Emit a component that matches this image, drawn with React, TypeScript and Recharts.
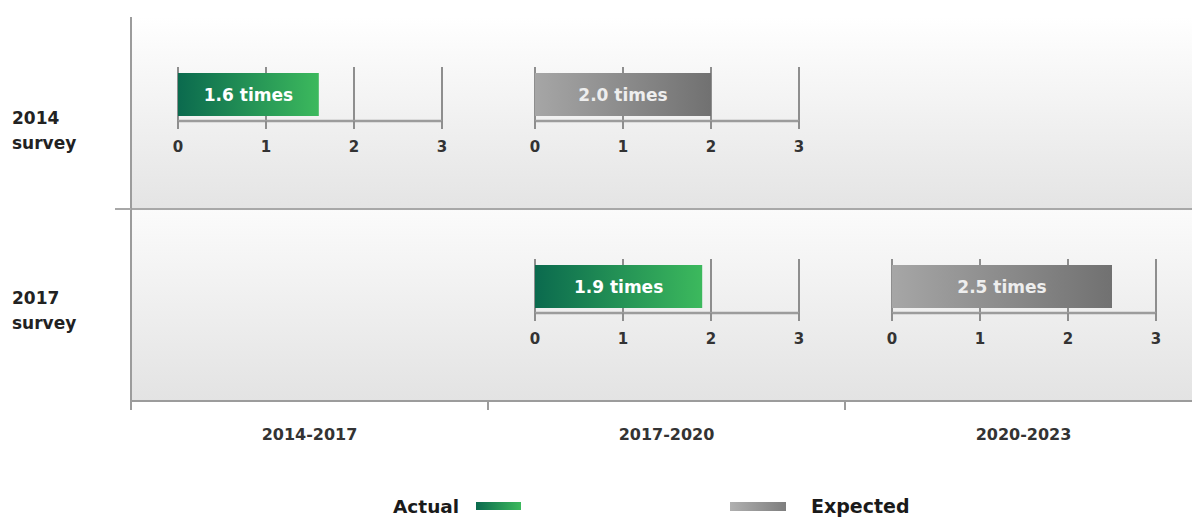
import React from 'react';
import {
  ComposedChart,
  BarChart,
  Bar,
  XAxis,
  YAxis,
  CartesianGrid,
  ReferenceArea,
  ReferenceLine,
  LabelList,
} from 'recharts';

// Survey periods (columns) and survey editions (rows)
const periods = ['2014-2017', '2017-2020', '2020-2023'];
const surveys = ['2014 survey', '2017 survey'];

// Growth multipliers reported by each survey
const actualPeriods = ['2014-2017', '2017-2020'];
const actualValues = [1.6, 1.9];
const expectedPeriods = ['2017-2020', '2020-2023'];
const expectedValues = [2.0, 2.5];

// Scale of the small multiplier charts
const multiplierTicks = [0, 1, 2, 3];
const legendLabels = ['Actual', 'Expected'];

const FONT = '"DejaVu Sans", Verdana, sans-serif';
const PAGE_W = 1192;
const PAGE_H = 517;
const CHART_W = 1210;
const PLOT_LEFT = 131;
const PLOT_TOP = 17;
const PLOT_BOTTOM = 401;
const PLOT_RIGHT_PAD = 8;
const X_AXIS_H = 60;
const COL_W = (CHART_W - PLOT_RIGHT_PAD - PLOT_LEFT) / periods.length;
const ROW_H = (PLOT_BOTTOM - PLOT_TOP) / surveys.length;
const ROW_LABEL_DY = [11, -1];

const MINI_W = 264;
const MINI_PAD = 12;
const MINI_OFFSET_X = 47;
const MINI_OFFSET_Y = 45;
const MINI_TOP_MARGIN = 5;
const MINI_PLOT_H = 54;
const MINI_AXIS_H = 45;

const AXIS_GREY = '#9c9c9c';

const PeriodTick = (props: any) => {
  const { x, y, payload } = props;
  const v = payload.value as number;
  if (Number.isInteger(v)) {
    return <line x1={x} x2={x} y1={y} y2={y + 9} stroke={AXIS_GREY} strokeWidth={2} />;
  }
  return (
    <text
      x={x}
      y={y + 33}
      textAnchor="middle"
      dominantBaseline="central"
      fill="#333"
      fontFamily={FONT}
      fontWeight="bold"
      fontSize={16}
    >
      {periods[Math.floor(v)]}
    </text>
  );
};

const SurveyTick = (props: any) => {
  const { x, y, payload } = props;
  const v = payload.value as number;
  if (Number.isInteger(v)) {
    return <line x1={x - 16} x2={x} y1={y} y2={y} stroke="#a8a8a8" strokeWidth={2} />;
  }
  const row = Math.floor(v);
  const [year, word] = surveys[row].split(' ');
  const tx = x - (PLOT_LEFT - 12);
  const ty = y + ROW_LABEL_DY[row];
  return (
    <text fill="#222" fontFamily={FONT} fontWeight="bold" fontSize={17}>
      <tspan x={tx} y={ty}>{year}</tspan>
      <tspan x={tx} y={ty + 25}>{word}</tspan>
    </text>
  );
};

type MiniProps = {
  survey: string;
  value: number;
  period: string;
  row: number;
  kind: 'actual' | 'expected';
};

const MiniBar = ({ survey, value, period, row, kind }: MiniProps) => {
  const col = periods.indexOf(period);
  const left = PLOT_LEFT + col * COL_W + MINI_OFFSET_X - MINI_PAD;
  const top = PLOT_TOP + row * ROW_H + MINI_OFFSET_Y;
  const gradId = `bar-${kind}-${row}`;
  const stops =
    kind === 'actual'
      ? ['#0b6a4e', '#3cb95d']
      : ['#a6a6a6', '#717171'];
  return (
    <div style={{ position: 'absolute', left, top }}>
      <BarChart
        width={MINI_W + 2 * MINI_PAD}
        height={MINI_TOP_MARGIN + MINI_PLOT_H + MINI_AXIS_H}
        layout="vertical"
        data={[{ survey, value }]}
        margin={{ top: MINI_TOP_MARGIN, right: MINI_PAD, bottom: 0, left: MINI_PAD }}
      >
        <defs>
          <linearGradient id={gradId} x1="0" y1="0" x2="1" y2="0">
            <stop offset="0%" stopColor={stops[0]} />
            <stop offset="100%" stopColor={stops[1]} />
          </linearGradient>
        </defs>
        <CartesianGrid horizontal={false} stroke="#8e8e8e" strokeWidth={2} />
        <XAxis
          type="number"
          domain={[0, 3]}
          ticks={multiplierTicks}
          interval={0}
          allowDataOverflow
          height={MINI_AXIS_H}
          axisLine={{ stroke: AXIS_GREY, strokeWidth: 2.5 }}
          tickLine={{ stroke: '#8e8e8e', strokeWidth: 2 }}
          tickSize={8}
          tickMargin={12}
          tick={{ fill: '#333', fontSize: 15, fontWeight: 'bold', fontFamily: FONT }}
        />
        <YAxis type="category" dataKey="survey" hide />
        <Bar dataKey="value" fill={`url(#${gradId})`} barSize={43} isAnimationActive={false}>
          <LabelList
            dataKey="value"
            position="center"
            formatter={(v: any) => `${Number(v).toFixed(1)} times`}
            fill={kind === 'actual' ? '#ffffff' : '#eeeeee'}
            fontSize={17}
            fontWeight="bold"
            fontFamily={FONT}
          />
        </Bar>
      </BarChart>
    </div>
  );
};

const Legend = () => (
  <svg
    width={PAGE_W}
    height={40}
    style={{ position: 'absolute', left: 0, top: PAGE_H - 40 }}
  >
    <defs>
      <linearGradient id="legend-actual" x1="0" y1="0" x2="1" y2="0">
        <stop offset="0%" stopColor="#0b6a4e" />
        <stop offset="100%" stopColor="#3cb95d" />
      </linearGradient>
      <linearGradient id="legend-expected" x1="0" y1="0" x2="1" y2="0">
        <stop offset="0%" stopColor="#b0b0b0" />
        <stop offset="100%" stopColor="#7e7e7e" />
      </linearGradient>
    </defs>
    <text x={393} y={36} fill="#1a1a1a" fontFamily={FONT} fontWeight="bold" fontSize={18.5}>
      {legendLabels[0]}
    </text>
    <rect x={476} y={25} width={45} height={8} fill="url(#legend-actual)" />
    <rect x={730} y={25} width={56} height={9} fill="url(#legend-expected)" />
    <text x={811} y={36} fill="#1a1a1a" fontFamily={FONT} fontWeight="bold" fontSize={19}>
      {legendLabels[1]}
    </text>
  </svg>
);

export default function App() {
  return (
    <div
      style={{
        position: 'absolute',
        left: 0,
        top: 0,
        width: PAGE_W,
        height: PAGE_H,
        overflow: 'hidden',
        background: '#ffffff',
      }}
    >
      <ComposedChart
        width={CHART_W}
        height={PAGE_H}
        data={periods.map((p, i) => ({ period: p, pos: i + 0.5 }))}
        margin={{ top: PLOT_TOP, right: PLOT_RIGHT_PAD, bottom: PAGE_H - PLOT_BOTTOM - X_AXIS_H, left: 0 }}
      >
        <defs>
          <linearGradient id="panel-top" x1="0" y1="0" x2="0" y2="1">
            <stop offset="0%" stopColor="#ffffff" />
            <stop offset="100%" stopColor="#e4e4e4" />
          </linearGradient>
          <linearGradient id="panel-bottom" x1="0" y1="0" x2="0" y2="1">
            <stop offset="0%" stopColor="#fbfbfb" />
            <stop offset="100%" stopColor="#e3e3e3" />
          </linearGradient>
        </defs>
        <ReferenceArea x1={0} x2={3} y1={0} y2={1} fill="url(#panel-top)" fillOpacity={1} stroke="none" />
        <ReferenceArea x1={0} x2={3} y1={1} y2={2} fill="url(#panel-bottom)" fillOpacity={1} stroke="none" />
        <ReferenceLine y={1} stroke="#a8a8a8" strokeWidth={2} />
        <XAxis
          type="number"
          dataKey="pos"
          domain={[0, 3]}
          ticks={[0, 0.5, 1, 1.5, 2, 2.5, 3]}
          interval={0}
          allowDataOverflow
          height={X_AXIS_H}
          tickSize={0}
          tickMargin={0}
          tickLine={false}
          axisLine={{ stroke: AXIS_GREY, strokeWidth: 2 }}
          tick={<PeriodTick />}
        />
        <YAxis
          type="number"
          domain={[0, 2]}
          reversed
          ticks={[0.5, 1, 1.5]}
          interval={0}
          allowDataOverflow
          width={PLOT_LEFT}
          tickSize={0}
          tickMargin={0}
          tickLine={false}
          axisLine={{ stroke: AXIS_GREY, strokeWidth: 2 }}
          tick={<SurveyTick />}
        />
      </ComposedChart>

      {surveys.map((s, row) => (
        <MiniBar
          key={`a-${s}`}
          survey={s}
          value={actualValues[row]}
          period={actualPeriods[row]}
          row={row}
          kind="actual"
        />
      ))}
      {surveys.map((s, row) => (
        <MiniBar
          key={`e-${s}`}
          survey={s}
          value={expectedValues[row]}
          period={expectedPeriods[row]}
          row={row}
          kind="expected"
        />
      ))}

      <Legend />
    </div>
  );
}
